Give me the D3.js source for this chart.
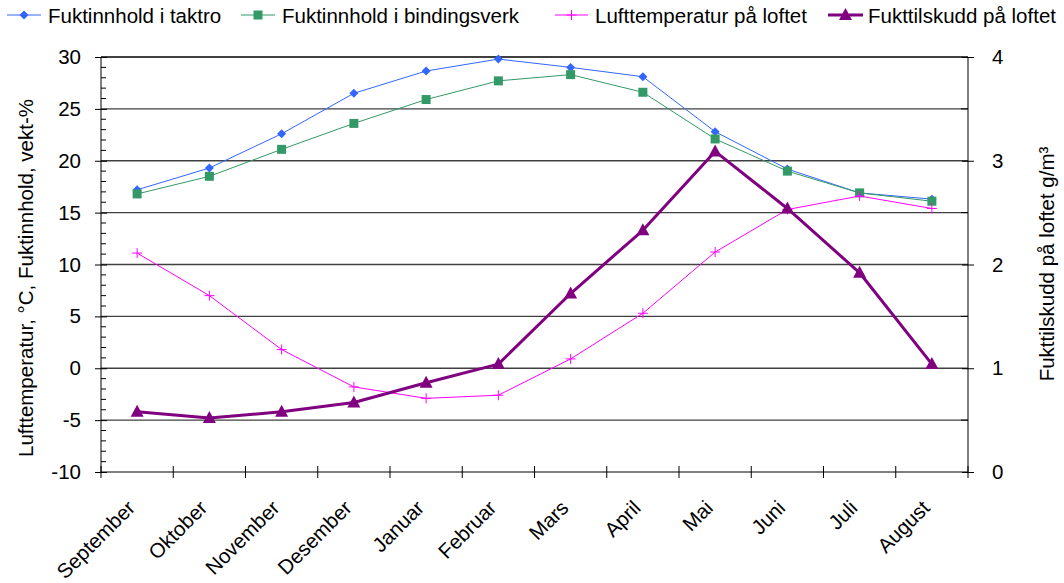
<!DOCTYPE html>
<html>
<head>
<meta charset="utf-8">
<script src="https://cdn.jsdelivr.net/npm/d3@7"></script>
<style>
  html, body { margin: 0; padding: 0; background: #fff; }
  svg { display: block; font-family: Arial, "Liberation Sans", sans-serif; }
</style>
</head>
<body>
<svg id="chart" width="1064" height="583"></svg>
<script>
// Months (September → August)
const months = ["September", "Oktober", "November", "Desember", "Januar", "Februar",
                "Mars", "April", "Mai", "Juni", "Juli", "August"];

// Moisture content in roof boarding, weight-%
const taktro = [17.2, 19.3, 22.6, 26.5, 28.65, 29.8, 29.0, 28.1, 22.8, 19.2, 16.9, 16.3];
// Moisture content in timber framing, weight-%
const bindingsverk = [16.8, 18.5, 21.1, 23.6, 25.9, 27.7, 28.3, 26.6, 22.1, 19.0, 16.9, 16.1];
// Air temperature in the attic, °C
const lufttemp = [11.1, 7.0, 1.8, -1.8, -2.9, -2.6, 0.9, 5.3, 11.2, 15.3, 16.6, 15.4];
// Moisture supplement in the attic, g/m³ (right axis)
const fukttilskudd = [0.58, 0.52, 0.58, 0.67, 0.86, 1.04, 1.72, 2.33, 3.09, 2.54, 1.92, 1.04];

const leftTicks = [-10, -5, 0, 5, 10, 15, 20, 25, 30];
const rightTicks = [0, 1, 2, 3, 4];

const FS = 20.5;
const svg = d3.select("#chart");
const L = 101, R = 968, T = 57, B = 472;

const x = d3.scaleBand().domain(months).range([L, R]).padding(0);
const cx = m => x(m) + x.bandwidth() / 2;
const yL = d3.scaleLinear().domain([-10, 30]).range([B, T]);
const yR = d3.scaleLinear().domain([0, 4]).range([B, T]);
const fmt = d => String(d); // plain hyphen-minus

// Horizontal gridlines
svg.append("g").selectAll("line")
  .data(leftTicks.filter(v => v > -10 && v < 30))
  .join("line")
  .attr("x1", L).attr("x2", R)
  .attr("y1", d => yL(d)).attr("y2", d => yL(d))
  .attr("stroke", "#404040").attr("stroke-width", 1.4);
svg.append("line").attr("x1", L).attr("x2", R).attr("y1", T).attr("y2", T)
  .attr("stroke", "#000").attr("stroke-width", 1.5);

// Left axis with minor ticks inside
const gL = svg.append("g").attr("transform", `translate(${L},0)`);
gL.call(d3.axisLeft(yL).tickValues(leftTicks).tickSize(6).tickPadding(14).tickFormat(fmt));
gL.selectAll(".tick line").attr("x2", -6).attr("x1", 6);
gL.select(".domain").attr("d", `M0,${T}V${B}`);
gL.selectAll("g.minor").data(d3.range(-10, 31, 1).filter(v => v % 5 !== 0))
  .join("line").attr("x1", 0).attr("x2", 5)
  .attr("y1", d => yL(d)).attr("y2", d => yL(d)).attr("stroke", "#000");

// Right axis with minor ticks inside
const gR = svg.append("g").attr("transform", `translate(${R},0)`);
gR.call(d3.axisRight(yR).tickValues(rightTicks).tickSize(6).tickPadding(18).tickFormat(fmt));
gR.selectAll(".tick line").attr("x1", -6).attr("x2", 6);
gR.select(".domain").attr("d", `M0,${T}V${B}`);
gR.selectAll("g.minor").data([0.5, 1.5, 2.5, 3.5])
  .join("line").attr("x1", -7).attr("x2", 0)
  .attr("y1", d => yR(d)).attr("y2", d => yR(d)).attr("stroke", "#000");

svg.selectAll(".tick text").attr("font-size", FS).attr("fill", "#000")
  .attr("font-family", "Arial, 'Liberation Sans', sans-serif");
svg.selectAll(".domain, .tick line").attr("stroke", "#000");

// Bottom category axis
const gX = svg.append("g").attr("transform", `translate(0,${B})`);
gX.append("line").attr("x1", L).attr("x2", R).attr("stroke", "#000");
gX.selectAll("line.tk").data(months.map(m => x(m)).concat([R]))
  .join("line").attr("class", "tk")
  .attr("x1", d => d).attr("x2", d => d).attr("y1", -6).attr("y2", 6)
  .attr("stroke", "#000");
gX.selectAll("text").data(months).join("text")
  .attr("transform", d => `translate(${cx(d) - 11},${27}) rotate(-45)`)
  .attr("text-anchor", "end")
  .attr("dy", "0.7em")
  .attr("font-size", FS)
  .attr("fill", "#000")
  .text(d => d);

// Axis titles
svg.append("text")
  .attr("transform", `translate(33,278) rotate(-90)`)
  .attr("text-anchor", "middle").attr("font-size", FS)
  .attr("fill", "#000")
  .text("Lufttemperatur, °C, Fuktinnhold, vekt-%");
svg.append("text")
  .attr("transform", `translate(1054,264) rotate(-90)`)
  .attr("text-anchor", "middle").attr("font-size", FS)
  .attr("fill", "#000")
  .text("Fukttilskudd på loftet g/m³");

// Series
const series = [
  { name: "Fuktinnhold i taktro", values: taktro, y: yL, color: "#3366FF", width: 1, marker: "diamond" },
  { name: "Fuktinnhold i bindingsverk", values: bindingsverk, y: yL, color: "#339966", width: 1, marker: "square" },
  { name: "Lufttemperatur på loftet", values: lufttemp, y: yL, color: "#FF00FF", width: 1, marker: "plus" },
  { name: "Fukttilskudd på loftet", values: fukttilskudd, y: yR, color: "#800080", width: 3, marker: "triangle" }
];

function drawMarker(g, type, color) {
  if (type === "diamond") {
    g.append("path").attr("d", "M0,-4.5L4.5,0L0,4.5L-4.5,0Z").attr("fill", color);
  } else if (type === "square") {
    g.append("rect").attr("x", -4.5).attr("y", -4.5).attr("width", 9).attr("height", 9).attr("fill", color);
  } else if (type === "plus") {
    g.append("path").attr("d", "M-5,0H5M0,-5V5").attr("stroke", color).attr("stroke-width", 1);
  } else if (type === "triangle") {
    g.append("path").attr("d", "M0,-7L6.5,5L-6.5,5Z").attr("fill", color);
  }
}

const line = d3.line();
series.forEach(s => {
  const pts = s.values.map((v, i) => [cx(months[i]), s.y(v)]);
  svg.append("path").attr("d", line(pts))
    .attr("fill", "none").attr("stroke", s.color).attr("stroke-width", s.width)
    .attr("stroke-linejoin", "round");
  pts.forEach(p => {
    const g = svg.append("g").attr("transform", `translate(${p[0]},${p[1]})`);
    drawMarker(g, s.marker, s.color);
  });
});

// Legend
const legendPos = [
  { x0: 7, x1: 41, tx: 48 },
  { x0: 241, x1: 275, tx: 282 },
  { x0: 555, x1: 588, tx: 595 },
  { x0: 828, x1: 863, tx: 868 }
];
series.forEach((s, i) => {
  const p = legendPos[i];
  const g = svg.append("g");
  g.append("line").attr("x1", p.x0).attr("x2", p.x1).attr("y1", 15).attr("y2", 15)
    .attr("stroke", s.color).attr("stroke-width", s.width);
  const mg = g.append("g").attr("transform", `translate(${(p.x0 + p.x1) / 2},15)`);
  drawMarker(mg, s.marker, s.color);
  g.append("text").attr("x", p.tx).attr("y", 22.5).attr("font-size", FS).attr("fill", "#000")
    .text(s.name);
});
</script>
</body>
</html>
